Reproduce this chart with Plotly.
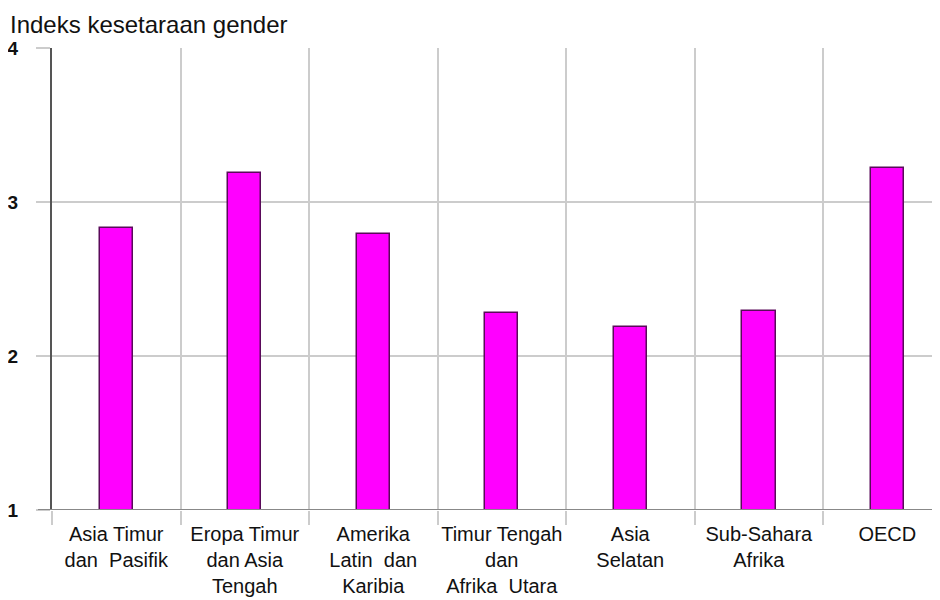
import plotly.graph_objects as go

# data
regions = [
    'Asia Timur<br>dan  Pasifik',
    'Eropa Timur<br>dan Asia<br>Tengah',
    'Amerika<br>Latin  dan<br>Karibia',
    'Timur Tengah<br>dan<br>Afrika  Utara',
    'Asia<br>Selatan',
    'Sub-Sahara<br>Afrika',
    'OECD',
]
gender_index = [2.83, 3.19, 2.79, 2.28, 2.19, 2.29, 3.22]
y_ticks = [1, 2, 3, 4]

fig = go.Figure()
fig.add_trace(go.Bar(
    x=regions, y=gender_index, base=0,
    width=0.26,
    marker=dict(color='#ff00ff', line=dict(color='#5a0a5a', width=1.5)),
))

# the page adds an 8px body margin, so margins are offset by 8
fig.update_layout(
    width=940, height=600,
    margin=dict(l=44, r=8, t=40, b=98),
    plot_bgcolor='white', paper_bgcolor='white',
    font=dict(family='Liberation Sans, Arial, sans-serif', size=16, color='#111'),
    showlegend=False,
    bargap=0,
)
fig.add_annotation(
    text='Indeks kesetaraan gender', xref='paper', yref='paper',
    x=-44 / 888, y=1, xanchor='left', yanchor='bottom', yshift=8,
    showarrow=False, font=dict(size=24, color='#111'),
)

fig.update_xaxes(
    type='category', range=[-0.5, 6.41], automargin=False, tickangle=0,
    tickson='boundaries', ticks='outside', ticklen=14, tickwidth=2, tickcolor='#cccccc',
    showgrid=True, gridcolor='#cccccc', gridwidth=2,
    showline=False, tickfont=dict(size=20), ticklabelstandoff=10,
)
fig.update_yaxes(
    range=[1, 4], tickvals=y_ticks, automargin=False,
    ticks='outside', ticklen=14, tickwidth=2, tickcolor='#cccccc',
    showgrid=True, gridcolor='#cccccc', gridwidth=2,
    zeroline=False, showline=True, linecolor='#555555', linewidth=2,
    ticklabelstandoff=14,
    tickfont=dict(size=19, family='Liberation Sans, Arial Black, sans-serif', weight='bold', color='#111'),
)
# bottom axis line at y=1
fig.add_shape(type='line', xref='paper', yref='y', x0=-14 / 888, x1=1, y0=1, y1=1,
              line=dict(color='#888888', width=2))

fig.write_html('out.html')
